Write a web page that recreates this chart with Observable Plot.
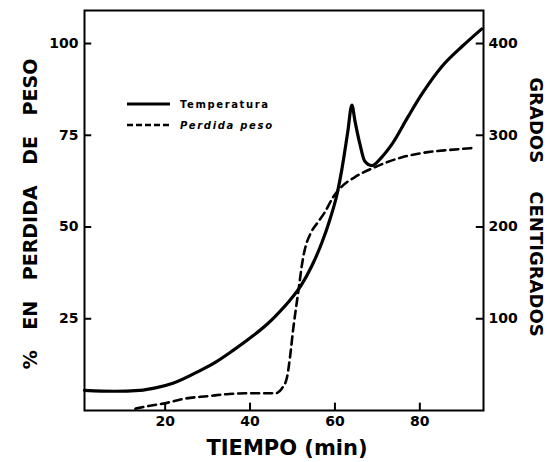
<!DOCTYPE html>
<html>
<head>
<meta charset="utf-8">
<script src="https://cdn.jsdelivr.net/npm/d3@7"></script>
<script src="https://cdn.jsdelivr.net/npm/@observablehq/plot@0.6"></script>
<style>
  html, body { margin: 0; padding: 0; background: #fff; }
  #chart svg { display: block; font-family: "DejaVu Sans", sans-serif; }
</style>
</head>
<body>
<div id="chart"></div>
<script>
// Temperature curve (°C) vs time (min)
const tempTime = [1, 8, 14, 18, 22, 28, 32, 36, 40, 44, 46, 49, 52, 54.6, 57, 58.8, 60.5, 61.6, 63, 64, 64.7, 65.9, 67, 68.7, 71, 73.4, 77.2, 80.5, 85.2, 90, 94.6];
const tempC    = [22, 21, 22, 25, 30, 43, 53, 65.5, 79, 94, 103, 118, 136, 158, 184, 208, 236, 262, 303, 333, 316, 290, 272, 267, 276, 290, 320, 345, 375, 397, 416];
// Weight loss curve (%) vs time (min)
const lossTime = [13, 16, 20, 25, 30, 35, 40, 46, 47.5, 48.7, 49.4, 50.2, 51.3, 52.5, 54.6, 55.8, 57.6, 59.5, 61.6, 64.7, 69.4, 75.8, 81.9, 87, 92.2];
const lossPct  = [0.5, 1.2, 2, 3.3, 3.9, 4.5, 4.7, 4.7, 6, 9, 14.4, 22.5, 31.8, 41.6, 49, 51, 54, 58, 61, 63.6, 66.3, 69, 70.4, 71, 71.5];
// Tick labels
const xTicks = [20, 40, 60, 80];
const yLeftTicks = [25, 50, 75, 100];
const yRightTicks = [100, 200, 300, 400];
const legendLabels = ["Temperatura", "Perdida peso"];

const temp = tempTime.map((t, i) => ({t, c: tempC[i]}));
const loss = lossTime.map((t, i) => ({t, p: lossPct[i]}));
const C_PER_PCT = 4; // 100 % ↔ 400 °C

const plot = Plot.plot({
  width: 550,
  height: 462,
  marginLeft: 84,
  marginRight: 67,
  marginTop: 10,
  marginBottom: 52,
  style: {fontFamily: "DejaVu Sans, sans-serif", background: "#fff", color: "#000"},
  x: {domain: [1, 95]},
  y: {domain: [0, 109]},
  marks: [
    Plot.frame({stroke: "#000", strokeWidth: 2}),
    // inward ticks
    Plot.ruleX(xTicks, {x: d => d, y1: 0, y2: 2, stroke: "#000", strokeWidth: 2}),
    Plot.ruleY(yLeftTicks, {y: d => d, x1: 1, x2: 2.7, stroke: "#000", strokeWidth: 2}),
    Plot.ruleY(yRightTicks, {y: d => d / C_PER_PCT, x1: 93.3, x2: 95, stroke: "#000", strokeWidth: 2}),
    // axes (labels only)
    Plot.axisX(xTicks, {tickSize: 0, tickPadding: 6, fontSize: 14, fontWeight: "bold", label: null}),
    Plot.axisY(yLeftTicks, {anchor: "left", tickSize: 0, tickPadding: 6, fontSize: 14, fontWeight: "bold", label: null}),
    Plot.axisY(yRightTicks.map(d => d / C_PER_PCT), {anchor: "right", tickSize: 0, tickPadding: 5, fontSize: 14, fontWeight: "bold", label: null, tickFormat: d => String(Math.round(d * C_PER_PCT))}),
    // curves
    Plot.line(loss, {x: "t", y: "p", stroke: "#000", strokeWidth: 2.6, strokeDasharray: "8,5", curve: "monotone-x"}),
    Plot.line(temp, {x: "t", y: d => d.c / C_PER_PCT, stroke: "#000", strokeWidth: 3.2, curve: "monotone-x"})
  ]
});

const svg = d3.select(plot);
// Axis titles
svg.append("text")
  .attr("transform", "translate(37,214) rotate(-90)")
  .attr("text-anchor", "middle")
  .attr("font-size", 19).attr("font-weight", "bold")
  .attr("word-spacing", "14px")
  .text("% EN PERDIDA DE PESO");
svg.append("text")
  .attr("transform", "translate(530,207) rotate(90)")
  .attr("text-anchor", "middle")
  .attr("font-size", 18).attr("font-weight", "bold")
  .attr("word-spacing", "22px")
  .text("GRADOS CENTIGRADOS");
svg.append("text")
  .attr("x", 287).attr("y", 455)
  .attr("text-anchor", "middle")
  .attr("font-size", 21).attr("font-weight", "bold")
  .text("TIEMPO (min)");

// Legend
const lg = svg.append("g").attr("text-anchor", "start");
lg.append("line").attr("x1", 127).attr("x2", 170).attr("y1", 104).attr("y2", 104)
  .attr("stroke", "#000").attr("stroke-width", 3.2);
lg.append("line").attr("x1", 127).attr("x2", 170).attr("y1", 125).attr("y2", 125)
  .attr("stroke", "#000").attr("stroke-width", 2.6).attr("stroke-dasharray", "6,3");
lg.append("text").attr("x", 180).attr("y", 108).attr("font-size", 10).attr("font-weight", "bold")
  .attr("text-anchor", "start")
  .attr("textLength", 88).attr("lengthAdjust", "spacing").text(legendLabels[0]);
lg.append("text").attr("x", 180).attr("y", 129).attr("font-size", 10).attr("font-weight", "bold")
  .attr("text-anchor", "start").attr("font-style", "italic")
  .attr("textLength", 92).attr("lengthAdjust", "spacing").text(legendLabels[1]);

document.getElementById("chart").appendChild(plot);
</script>
</body>
</html>
